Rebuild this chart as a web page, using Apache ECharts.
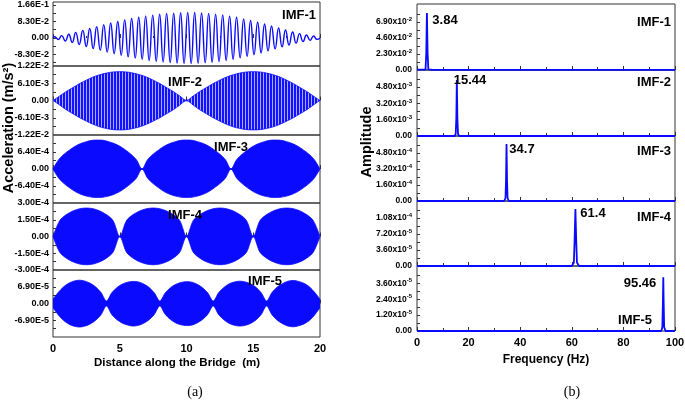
<!DOCTYPE html>
<html><head><meta charset="utf-8">
<script src="https://cdn.jsdelivr.net/npm/echarts@6/dist/echarts.min.js"></script>
<style>html,body{margin:0;padding:0;background:#fff}#c{width:685px;height:407px}</style>
</head><body><div id="c"></div>
<script>
// ---------------- DATA ----------------
// (a) IMF-1: extrema of the oscillation
const imf1Dist = [0,0.13,0.39,0.65,0.92,1.18,1.44,1.70,1.96,2.23,2.49,2.75,3.01,3.27,3.54,3.80,4.06,4.32,4.58,4.85,5.11,5.37,5.63,5.89,6.16,6.42,6.68,6.94,7.20,7.47,7.73,7.99,8.25,8.51,8.78,9.04,9.30,9.56,9.82,10.09,10.35,10.61,10.87,11.13,11.40,11.66,11.92,12.18,12.44,12.71,12.97,13.23,13.49,13.75,14.02,14.28,14.54,14.80,15.06,15.33,15.59,15.85,16.11,16.37,16.64,16.90,17.16,17.42,17.68,17.95,18.21,18.47,18.73,18.99,19.26,19.52,19.78,20];
const imf1Acc = [0,0.006,-0.008,0.012,-0.015,0.019,-0.023,0.028,-0.033,0.038,-0.043,0.048,-0.053,0.057,-0.062,0.067,-0.071,0.075,-0.079,0.083,-0.087,0.091,-0.095,0.098,-0.101,0.104,-0.107,0.110,-0.113,0.115,-0.117,0.119,-0.121,0.123,-0.124,0.125,-0.126,0.127,-0.128,0.128,-0.128,0.128,-0.127,0.126,-0.125,0.124,-0.122,0.120,-0.118,0.116,-0.113,0.110,-0.107,0.104,-0.100,0.096,-0.092,0.088,-0.084,0.079,-0.075,0.070,-0.065,0.060,-0.055,0.050,-0.045,0.040,-0.035,0.030,-0.026,0.022,-0.018,0.015,-0.012,0.010,-0.007,0];

// IMF-2..5: envelopes (upper / lower) of the dense oscillation
const imf2Dist = [0,0.5,1,1.5,2,2.5,3,3.5,4,4.5,5,5.5,6,6.5,7,7.5,8,8.5,9,9.5,10,10.5,11,11.5,12,12.5,13,13.5,14,14.5,15,15.5,16,16.5,17,17.5,18,18.5,19,19.5,20];
const imf2Upper = [0,0.0016,0.0032,0.0046,0.0060,0.0072,0.0083,0.0091,0.0097,0.0101,0.0102,0.0101,0.0097,0.0091,0.0083,0.0072,0.0060,0.0046,0.0032,0.0016,0,0.0016,0.0032,0.0046,0.0060,0.0072,0.0083,0.0091,0.0097,0.0101,0.0102,0.0101,0.0097,0.0091,0.0083,0.0072,0.0060,0.0046,0.0032,0.0016,0];
const imf2Lower = [0,-0.0016,-0.0033,-0.0047,-0.0061,-0.0073,-0.0084,-0.0093,-0.0099,-0.0103,-0.0104,-0.0103,-0.0099,-0.0093,-0.0084,-0.0073,-0.0061,-0.0047,-0.0033,-0.0016,0,-0.0016,-0.0033,-0.0047,-0.0061,-0.0073,-0.0084,-0.0093,-0.0099,-0.0103,-0.0104,-0.0103,-0.0099,-0.0093,-0.0084,-0.0073,-0.0061,-0.0047,-0.0033,-0.0016,0];

const imf3Dist = [0,0.42,0.83,1.25,1.67,2.08,2.5,2.92,3.33,3.75,4.17,4.58,5,5.42,5.83,6.25,6.67,7.08,7.5,7.92,8.33,8.75,9.17,9.58,10,10.42,10.83,11.25,11.67,12.08,12.5,12.92,13.33,13.75,14.17,14.58,15,15.42,15.83,16.25,16.67,17.08,17.5,17.92,18.33,18.75,19.17,19.58,20];
const imf3Upper = [0,0.00035,0.00056,0.00072,0.00086,0.00096,0.00103,0.00108,0.00109,0.00108,0.00103,0.00096,0.00086,0.00072,0.00056,0.00035,0,0.00035,0.00056,0.00072,0.00086,0.00096,0.00103,0.00108,0.00109,0.00108,0.00103,0.00096,0.00086,0.00072,0.00056,0.00035,0,0.00035,0.00056,0.00072,0.00086,0.00096,0.00103,0.00108,0.00109,0.00108,0.00103,0.00096,0.00086,0.00072,0.00056,0.00035,0];
const imf3Lower = [0,-0.00034,-0.00055,-0.00071,-0.00085,-0.00095,-0.00102,-0.00106,-0.00107,-0.00106,-0.00102,-0.00095,-0.00085,-0.00071,-0.00055,-0.00034,0,-0.00034,-0.00055,-0.00071,-0.00085,-0.00095,-0.00102,-0.00106,-0.00107,-0.00106,-0.00102,-0.00095,-0.00085,-0.00071,-0.00055,-0.00034,0,-0.00034,-0.00055,-0.00071,-0.00085,-0.00095,-0.00102,-0.00106,-0.00107,-0.00106,-0.00102,-0.00095,-0.00085,-0.00071,-0.00055,-0.00034,0];

const imf4Dist = [0,0.5,1,1.5,2,2.5,3,3.5,4,4.5,5,5.5,6,6.5,7,7.5,8,8.5,9,9.5,10,10.5,11,11.5,12,12.5,13,13.5,14,14.5,15,15.5,16,16.5,17,17.5,18,18.5,19,19.5,20];
const imf4Upper = [0,0.000142,0.000196,0.000229,0.000249,0.000255,0.000249,0.000229,0.000196,0.000142,0,0.000142,0.000196,0.000229,0.000249,0.000255,0.000249,0.000229,0.000196,0.000142,0,0.000142,0.000196,0.000229,0.000249,0.000255,0.000249,0.000229,0.000196,0.000142,0,0.000142,0.000196,0.000229,0.000249,0.000255,0.000249,0.000229,0.000196,0.000142,0];
const imf4Lower = [0,-0.000140,-0.000194,-0.000227,-0.000247,-0.000253,-0.000247,-0.000227,-0.000194,-0.000140,0,-0.000140,-0.000194,-0.000227,-0.000247,-0.000253,-0.000247,-0.000227,-0.000194,-0.000140,0,-0.000140,-0.000194,-0.000227,-0.000247,-0.000253,-0.000247,-0.000227,-0.000194,-0.000140,0,-0.000140,-0.000194,-0.000227,-0.000247,-0.000253,-0.000247,-0.000227,-0.000194,-0.000140,0];

const imf5Dist = [0,0.4,0.8,1.2,1.6,2,2.4,2.8,3.2,3.6,4,4.4,4.8,5.2,5.6,6,6.4,6.8,7.2,7.6,8,8.4,8.8,9.2,9.6,10,10.4,10.8,11.2,11.6,12,12.4,12.8,13.2,13.6,14,14.4,14.8,15.2,15.6,16,16.4,16.8,17.2,17.6,18,18.4,18.8,19.2,19.6,20];
const imf5Upper = [1.8e-5,4.6e-5,6.9e-5,8.4e-5,9.3e-5,9.6e-5,9.2e-5,8.3e-5,6.8e-5,4.5e-5,1.0e-5,4.4e-5,6.6e-5,8.0e-5,8.8e-5,9.1e-5,8.9e-5,8.0e-5,6.6e-5,4.3e-5,1.0e-5,4.3e-5,6.5e-5,7.9e-5,8.7e-5,9.0e-5,8.8e-5,7.9e-5,6.5e-5,4.3e-5,1.0e-5,4.4e-5,6.6e-5,8.1e-5,8.9e-5,9.2e-5,8.9e-5,8.1e-5,6.7e-5,4.4e-5,1.0e-5,4.5e-5,6.8e-5,8.2e-5,9.2e-5,9.5e-5,9.1e-5,8.3e-5,6.9e-5,4.6e-5,1.8e-5];
const imf5Lower = [-1.8e-5,-4.7e-5,-7.0e-5,-8.5e-5,-9.4e-5,-9.7e-5,-9.3e-5,-8.4e-5,-6.9e-5,-4.6e-5,-1.0e-5,-4.5e-5,-6.7e-5,-8.1e-5,-8.9e-5,-9.3e-5,-9.0e-5,-8.1e-5,-6.7e-5,-4.4e-5,-1.0e-5,-4.4e-5,-6.6e-5,-8.0e-5,-8.8e-5,-9.1e-5,-8.9e-5,-8.0e-5,-6.6e-5,-4.4e-5,-1.0e-5,-4.5e-5,-6.7e-5,-8.2e-5,-9.0e-5,-9.3e-5,-9.0e-5,-8.2e-5,-6.8e-5,-4.5e-5,-1.0e-5,-4.6e-5,-6.9e-5,-8.3e-5,-9.3e-5,-9.6e-5,-9.2e-5,-8.4e-5,-7.0e-5,-4.7e-5,-1.8e-5];

// (b) spectra
const spec1Freq = [0,1.2,1.7,2.1,3.3,3.6,3.84,4.1,4.4,6,100];
const spec1Amp  = [0.0005,0.0004,0.003,0.0004,0.0004,0.025,0.082,0.025,0.0008,0.0002,0.0001];
const spec2Freq = [0,14.6,15.0,15.25,15.44,15.65,15.9,16.4,100];
const spec2Amp  = [0,0,0.0002,0.0018,0.0055,0.0018,0.0002,0,0];
const spec3Freq = [0,33.8,34.3,34.5,34.7,34.9,35.1,35.6,100];
const spec3Amp  = [0,0,0.00003,0.0002,0.00057,0.0002,0.00003,0,0];
const spec4Freq = [0,60.0,60.8,61.1,61.4,61.7,62.0,62.8,100];
const spec4Amp  = [0,0,0.000008,0.00006,0.000128,0.00006,0.000008,0,0];
const spec5Freq = [0,94.7,95.1,95.3,95.46,95.62,95.8,96.3,100];
const spec5Amp  = [0,0,0.000003,0.00002,0.0000405,0.00002,0.000003,0,0];

// tick labels
const leftTicks = [
  [-0.083,0,0.083,0.166],
  [-0.0122,-0.0061,0,0.0061,0.0122],
  [-0.00064,0,0.00064],
  [-0.0003,-0.00015,0,0.00015,0.0003],
  [-0.000069,0,0.000069]
];
const leftRange = [[-0.141,0.181],[-0.0122,0.0122],[-0.00128,0.00128],[-0.0003,0.0003],[-0.000138,0.000138]];
const rightTicks = [
  [0,0.023,0.046,0.069],
  [0,0.0016,0.0032,0.0048],
  [0,0.00016,0.00032,0.00048],
  [0,0.000036,0.000072,0.000108],
  [0,0.000012,0.000024,0.000036]
];
const rightMax = [0.0949,0.00648,0.00065,0.000146,0.000049];
const imfNames = ['IMF-1','IMF-2','IMF-3','IMF-4','IMF-5'];
const peakLabels = ['3.84','15.44','34.7','61.4','95.46'];

// ---------------- CHART ----------------
const BLUE = '#0a0aff';
const FONT = '"Liberation Sans", Arial, sans-serif';
const zip = (a,b) => a.map((v,i)=>[v,b[i]]);

function stripes(){
  const c = document.createElement('canvas'); c.width = 3; c.height = 4;
  const g = c.getContext('2d');
  g.fillStyle = '#1212ff'; g.fillRect(0,0,2,4);
  g.fillStyle = '#a9a9ff'; g.fillRect(2,0,1,4);
  return c;
}

const leftBoxes = [[2,64],[66,69],[135,68],[203,67],[270,67]];
const rightBoxes = [[4,66],[70,66],[136,65],[201,65],[266,65]];

const grids = [], xAxes = [], yAxes = [], series = [];
function halfTicks(t){
  const out = [];
  for (let i=0;i<t.length;i++){ out.push(t[i]); if(i<t.length-1) out.push((t[i]+t[i+1])/2); }
  const step = (t[1]-t[0])/2; out.unshift(t[0]-step); out.push(t[t.length-1]+step);
  return out;
}
function expLabel(v){ return Math.abs(v) < 1e-12 ? '0.00' : v.toExponential(2).toUpperCase(); }
function supLabel(v){
  if (Math.abs(v) < 1e-12) return '{m|0.00}';
  const e = Math.floor(Math.log10(v) + 1e-9);
  const m = v/Math.pow(10,e);
  return '{m|' + m.toFixed(2) + 'x10}{e|' + e + '}';
}

for (let i=0;i<5;i++){
  grids.push({left:53, top:leftBoxes[i][0], width:267, height:leftBoxes[i][1], show:true, borderColor:'#333', borderWidth:1, outerBoundsMode:'none', containLabel:false});
  xAxes.push({type:'value', gridIndex:i, min:0, max:20, interval:5,
    axisLine:{show:false}, splitLine:{show:false},
    axisTick:{inside:true, length:4, lineStyle:{color:'#333'}},
    minorTick:{show:true, splitNumber:2, length:2, lineStyle:{color:'#333'}},
    axisLabel:{show:i===4, margin:6, fontSize:11, fontWeight:'bold', color:'#000', fontFamily:FONT}});
  const t = leftTicks[i];
  yAxes.push({type:'value', gridIndex:i, min:leftRange[i][0], max:leftRange[i][1],
    axisLine:{show:false}, splitLine:{show:false},
    axisTick:{inside:true, length:3, lineStyle:{color:'#333'},
      customValues: halfTicks(t).filter(v=>v>leftRange[i][0]+1e-12 && v<leftRange[i][1]-1e-12)},
    axisLabel:{customValues:t, formatter:expLabel, margin:4, fontSize:9, fontWeight:'bold', color:'#000', fontFamily:FONT}});
}
for (let i=0;i<5;i++){
  const k = i+5;
  grids.push({left:417, top:rightBoxes[i][0], width:258, height:rightBoxes[i][1], show:true, borderColor:'#333', borderWidth:1, outerBoundsMode:'none', containLabel:false});
  xAxes.push({type:'value', gridIndex:k, min:0, max:100, interval:20,
    axisLine:{show:false}, splitLine:{show:false},
    axisTick:{inside:true, length:4, lineStyle:{color:'#333'}},
    minorTick:{show:true, splitNumber:2, length:3, lineStyle:{color:'#333'}},
    axisLabel:{show:i===4, margin:6, fontSize:11, fontWeight:'bold', color:'#000', fontFamily:FONT}});
  const t = rightTicks[i];
  yAxes.push({type:'value', gridIndex:k, min:0, max:rightMax[i],
    axisLine:{show:false}, splitLine:{show:false},
    axisTick:{inside:true, length:3, lineStyle:{color:'#333'},
      customValues: halfTicks(t).filter(v=>v>1e-12 && v<rightMax[i])},
    axisLabel:{customValues:t, formatter:supLabel, margin:5, color:'#000',
      rich:{m:{fontSize:8.5, fontWeight:'bold', fontFamily:FONT, color:'#000', lineHeight:11},
            e:{fontSize:6, fontWeight:'bold', fontFamily:FONT, color:'#000', verticalAlign:'top', lineHeight:6}}}});
}

// left series
series.push({type:'line', xAxisIndex:0, yAxisIndex:0, data:zip(imf1Dist, imf1Acc), symbol:'none', smooth:0.5,
  lineStyle:{width:1.4, color:BLUE}});
const bands = [[imf2Dist,imf2Upper,imf2Lower],[imf3Dist,imf3Upper,imf3Lower],[imf4Dist,imf4Upper,imf4Lower],[imf5Dist,imf5Upper,imf5Lower]];
bands.forEach((b,j)=>{
  const idx = j+1;
  const fill = j===0 ? {image:stripes(), repeat:'repeat'} : BLUE;
  const span = leftRange[idx][1]-leftRange[idx][0];
  series.push({type:'line', xAxisIndex:idx, yAxisIndex:idx, data:zip(b[0], b[1]), symbol:'none', smooth:0.3,
    lineStyle:{width:0.8, color:BLUE}, areaStyle:{color:fill, opacity:1, origin:-span*0.012}});
  series.push({type:'line', xAxisIndex:idx, yAxisIndex:idx, data:zip(b[0], b[2]), symbol:'none', smooth:0.3,
    lineStyle:{width:0.8, color:BLUE}, areaStyle:{color:fill, opacity:1, origin:span*0.012}});
});
// right series
[[spec1Freq,spec1Amp],[spec2Freq,spec2Amp],[spec3Freq,spec3Amp],[spec4Freq,spec4Amp],[spec5Freq,spec5Amp]].forEach((s,i)=>{
  series.push({type:'line', xAxisIndex:i+5, yAxisIndex:i+5, data:zip(s[0],s[1]), symbol:'none', clip:false,
    lineStyle:{width:1.8, color:BLUE}});
});

function txt(text, x, y, size, extra){
  return Object.assign({type:'text', x:x, y:y, z:100,
    style:{text:text, x:0, y:0, fill:'#000', font:'bold '+size+'px '+FONT,
      align:'center', verticalAlign:'middle', textAlign:'center', textVerticalAlign:'middle'}}, extra||{});
}
const graphics = [];
const leftLabelPos = [[299,15],[185,82],[231,147],[185,215],[265,281]];
imfNames.forEach((n,i)=>graphics.push(txt(n, leftLabelPos[i][0], leftLabelPos[i][1], 13)));
const rightLabelPos = [[654,22],[654,82],[654,151],[654,217],[635,320]];
imfNames.forEach((n,i)=>graphics.push(txt(n, rightLabelPos[i][0], rightLabelPos[i][1], 13)));
const peakPos = [[445,20],[470,80],[522,149],[593,213],[640,283]];
peakLabels.forEach((n,i)=>graphics.push(txt(n, peakPos[i][0], peakPos[i][1], 13)));
graphics.push(txt('Acceleration (m/s\u00B2)', 9, 128, 14.5, {rotation:Math.PI/2}));
graphics.push(txt('Amplitude', 367, 142, 14.5, {rotation:Math.PI/2}));
graphics.push(txt('Distance along the Bridge  (m)', 177, 363, 11.5));
graphics.push(txt('Frequency (Hz)', 546, 360, 12));
const cap = (t,x)=>({type:'text', x:x, y:392, z:100, style:{text:t, x:0, y:0, fill:'#000', font:'14px "Liberation Serif", "Times New Roman", serif', align:'center', verticalAlign:'middle', textAlign:'center', textVerticalAlign:'middle'}});
graphics.push(cap('(a)',195));
graphics.push(cap('(b)',572));

const chart = echarts.init(document.getElementById('c'), null, {renderer:'canvas'});
chart.setOption({animation:false, backgroundColor:'#fff', grid:grids, xAxis:xAxes, yAxis:yAxes, series:series, graphic:graphics});
</script></body></html>
